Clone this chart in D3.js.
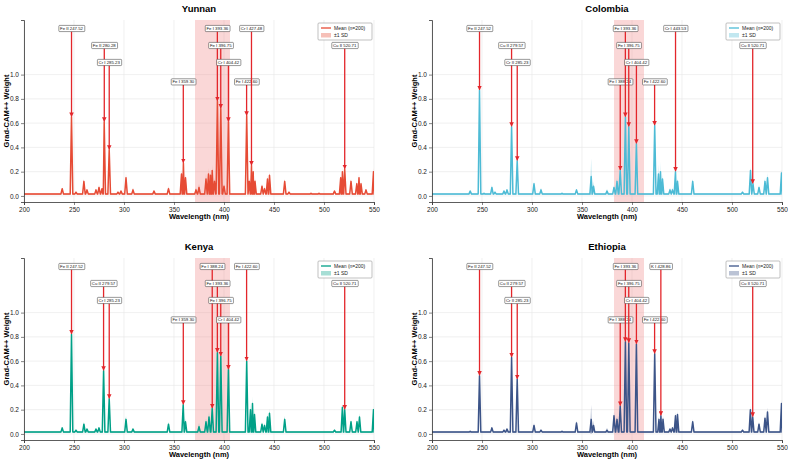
<!DOCTYPE html>
<html>
<head>
<meta charset="utf-8">
<script src="https://cdn.jsdelivr.net/npm/d3@7"></script>
<style>
  body { margin: 0; background: #fff; }
  text { font-family: "Liberation Sans", Arial, sans-serif; }
</style>
</head>
<body>
<svg id="chart" width="788" height="462"></svg>
<script>
// [wavelength, mean weight, sd]
const yunnanPeaks = [
  [238.2,0.06,0.01],[247.5,0.65,0.03],[252,0.03,0.01],[259.9,0.12,0.02],[263,0.05,0.01],
  [272,0.05,0.01],[275,0.07,0.02],[278,0.06,0.01],[280.2,0.61,0.03],[285.2,0.38,0.02],
  [294,0.03,0.01],[297,0.04,0.01],[302,0.15,0.03],[309,0.05,0.02],[330,0.04,0.01],
  [344.5,0.06,0.02],[357.5,0.18,0.04],[359.4,0.27,0.04],[361.5,0.15,0.03],[372,0.05,0.02],
  [375,0.07,0.03],[382,0.14,0.04],[384.5,0.18,0.05],[386.5,0.17,0.04],[388.2,0.21,0.05],
  [390.5,0.12,0.03],[393.4,0.78,0.04],[396.8,0.72,0.04],[400,0.08,0.02],[404.4,0.61,0.03],
  [422.7,0.66,0.03],[425.3,0.12,0.03],[427.5,0.25,0.05],[429.2,0.2,0.04],[431,0.12,0.03],
  [438,0.08,0.02],[440.5,0.06,0.02],[443.5,0.14,0.03],[445.5,0.17,0.03],[460.7,0.12,0.02],
  [465,0.03,0.01],[487,0.02,0.01],[495,0.02,0.01],[510.5,0.04,0.01],[516.7,0.15,0.03],
  [518.4,0.2,0.04],[520.7,0.22,0.04],[527,0.12,0.02],[532.8,0.1,0.02],[535,0.15,0.03],
  [537,0.1,0.02],[542,0.05,0.01],[549.5,0.2,0.03]
];
const colombiaPeaks = [
  [238.2,0.04,0.01],[247.5,0.87,0.03],[252,0.02,0.01],[259.9,0.07,0.02],[263,0.03,0.01],
  [272,0.04,0.01],[275,0.05,0.01],[279.6,0.57,0.03],[285.2,0.29,0.02],[302,0.1,0.02],
  [309,0.05,0.02],[330,0.02,0.01],[344.5,0.05,0.01],[359.2,0.16,0.15],[361.5,0.08,0.04],
  [375,0.04,0.02],[382,0.07,0.02],[385,0.12,0.03],[388.2,0.21,0.04],[393.4,0.65,0.05],
  [396.8,0.57,0.04],[404.4,0.43,0.03],[422.7,0.58,0.03],[426.5,0.18,0.08],[428.5,0.2,0.08],
  [430.5,0.14,0.04],[438,0.05,0.02],[440.5,0.05,0.02],[443.5,0.2,0.03],[445.5,0.12,0.03],
  [460.7,0.12,0.02],[510.5,0.03,0.01],[518.5,0.21,0.03],[521,0.1,0.02],[527,0.07,0.02],
  [533,0.12,0.03],[535.5,0.15,0.04],[549.5,0.19,0.03]
];
const kenyaPeaks = [
  [238.2,0.05,0.01],[247.5,0.82,0.03],[252,0.03,0.01],[259.9,0.08,0.02],[263,0.04,0.01],
  [272,0.04,0.01],[275,0.05,0.01],[279.6,0.52,0.03],[285.2,0.29,0.02],[302,0.12,0.03],
  [309,0.04,0.01],[344.5,0.08,0.02],[359.2,0.24,0.04],[361.5,0.1,0.03],[375,0.06,0.03],
  [382,0.1,0.03],[385,0.14,0.04],[388.2,0.21,0.04],[393.4,0.67,0.04],[396.8,0.64,0.04],
  [404.4,0.53,0.03],[422.7,0.6,0.03],[426.5,0.2,0.05],[428.5,0.25,0.06],[430.5,0.16,0.04],
  [438,0.08,0.02],[440.5,0.07,0.02],[443.5,0.14,0.03],[445.5,0.17,0.04],[460.7,0.12,0.03],
  [510.5,0.03,0.01],[518.4,0.22,0.03],[520.7,0.2,0.03],[527,0.1,0.02],[533,0.1,0.02],
  [535.5,0.14,0.03],[549.5,0.2,0.03]
];
const ethiopiaPeaks = [
  [238.2,0.02,0.01],[247.5,0.48,0.03],[259.9,0.05,0.01],[272,0.03,0.01],[275,0.04,0.01],
  [279.6,0.63,0.05],[285.2,0.45,0.03],[302,0.07,0.02],[309,0.03,0.01],[330,0.02,0.01],
  [344.5,0.09,0.02],[359.2,0.12,0.12],[361.5,0.07,0.04],[375,0.03,0.02],[382,0.15,0.03],
  [385,0.12,0.03],[388.2,0.23,0.04],[393.4,0.76,0.04],[396.8,0.75,0.04],[404.4,0.74,0.03],
  [422.7,0.66,0.03],[427,0.12,0.03],[428.9,0.15,0.03],[431,0.12,0.03],[438,0.04,0.01],
  [440.5,0.05,0.01],[443.5,0.15,0.03],[445.5,0.16,0.03],[460.7,0.1,0.02],[510.5,0.03,0.01],
  [518.4,0.2,0.03],[520.7,0.14,0.03],[527,0.08,0.02],[533,0.13,0.03],[535.5,0.18,0.04],
  [549.5,0.25,0.03]
];

// annotated lines [label, wavelength]
const yunnanLines = [["Fe II 247.52",247.52],["Fe II 280.28",280.28],["Cr I 285.23",285.23],["Fe I 359.30",359.30],
  ["Fe I 393.36",393.36],["Fe I 396.75",396.75],["Cr I 404.42",404.42],["Fe I 422.60",422.60],["Cr I 427.48",427.48],["Cu II 520.71",520.71]];
const colombiaLines = [["Fe II 247.52",247.52],["Cu II 279.57",279.57],["Cr II 285.23",285.23],["Fe I 388.24",388.24],
  ["Fe I 393.36",393.36],["Fe I 396.75",396.75],["Cr I 404.42",404.42],["Fe I 422.60",422.60],["Cr I 443.53",443.53],["Cu II 520.71",520.71]];
const kenyaLines = [["Fe II 247.52",247.52],["Cu II 279.57",279.57],["Cr I 285.23",285.23],["Fe I 359.30",359.30],
  ["Fe I 388.24",388.24],["Fe I 393.36",393.36],["Fe I 396.75",396.75],["Cr I 404.42",404.42],["Fe I 422.60",422.60],["Cu II 520.71",520.71]];
const ethiopiaLines = [["Fe II 247.52",247.52],["Cu II 279.57",279.57],["Cr II 285.23",285.23],["Fe I 388.24",388.24],
  ["Fe I 393.36",393.36],["Fe I 396.75",396.75],["Cr I 404.42",404.42],["Fe I 422.60",422.60],["K I 428.86",428.86],["Cu II 520.71",520.71]];

const countries = ["Yunnan","Colombia","Kenya","Ethiopia"];
const colors = ["#E64B35","#4DBBD5","#00A087","#3C5488"];
const highlight = [[371,406],[382,412],[371,406],[382,412]];
const labelLevels = [1.38,1.24,1.10,0.94];
const xTicks = [200,250,300,350,400,450,500,550];
const yTicks = [0,0.2,0.4,0.6,0.8,1.0];
const baseMean = 0.015, baseSd = 0.008;

const svg = d3.select("#chart");
const W = 350, H = 182;
const origins = [[24,20],[432,20],[24,258],[432,258]];
const allPeaks = [yunnanPeaks, colombiaPeaks, kenyaPeaks, ethiopiaPeaks];
const allLines = [yunnanLines, colombiaLines, kenyaLines, ethiopiaLines];

const defs = svg.append("defs");
defs.append("marker").attr("id","arrow").attr("viewBox","0 0 10 10")
  .attr("refX",9).attr("refY",5).attr("markerWidth",3.5).attr("markerHeight",3.5)
  .attr("markerUnits","strokeWidth").attr("orient","auto")
  .append("path").attr("d","M0,0 L10,5 L0,10 z").attr("fill","#e3262b");

countries.forEach((name, i) => {
  const [ox, oy] = origins[i];
  const g = svg.append("g").attr("transform", `translate(${ox},${oy})`);
  const x = d3.scaleLinear().domain([200,550]).range([0,W]);
  const y = d3.scaleLinear().domain([-0.05,1.45]).range([H,0]);

  defs.append("clipPath").attr("id","clip"+i).append("rect").attr("width",W).attr("height",H);

  // grid
  g.append("g").selectAll("line").data(xTicks).enter().append("line")
    .attr("x1",d=>x(d)).attr("x2",d=>x(d)).attr("y1",0).attr("y2",H)
    .attr("stroke","#e6e6e6").attr("stroke-width",0.6);
  g.append("g").selectAll("line").data(yTicks).enter().append("line")
    .attr("x1",0).attr("x2",W).attr("y1",d=>y(d)).attr("y2",d=>y(d))
    .attr("stroke","#e6e6e6").attr("stroke-width",0.6);

  const plot = g.append("g").attr("clip-path",`url(#clip${i})`);
  plot.append("rect").attr("x",x(highlight[i][0])).attr("width",x(highlight[i][1])-x(highlight[i][0]))
    .attr("y",0).attr("height",H).attr("fill","#f28b8b").attr("opacity",0.35);

  // spectrum points from peak list
  const w = 1.3;
  let pts = [[200,baseMean,baseSd],[550,baseMean,baseSd]];
  allPeaks[i].forEach(p => {
    pts.push([p[0]-w,baseMean,baseSd]); pts.push(p); pts.push([p[0]+w,baseMean,baseSd]);
  });
  pts.sort((a,b)=>a[0]-b[0]);

  const area = d3.area().x(d=>x(d[0])).y0(d=>y(Math.max(d[1]-d[2],-0.03))).y1(d=>y(d[1]+d[2]));
  const line = d3.line().x(d=>x(d[0])).y(d=>y(d[1]));
  plot.append("path").datum(pts).attr("d",area).attr("fill",colors[i]).attr("opacity",0.35);
  plot.append("path").datum(pts).attr("d",line).attr("fill","none")
    .attr("stroke",colors[i]).attr("stroke-width",1.5).attr("stroke-linejoin","round");

  // axes
  const xa = g.append("g").attr("transform",`translate(0,${H})`)
    .call(d3.axisBottom(x).tickValues(xTicks).tickFormat(d3.format("d")).tickSize(3).tickPadding(2));
  const ya = g.append("g")
    .call(d3.axisLeft(y).tickValues(yTicks).tickFormat(d3.format(".1f")).tickSize(3).tickPadding(2));
  [xa, ya].forEach(a => {
    a.select(".domain").attr("stroke","#333").attr("stroke-width",0.8);
    a.selectAll(".tick line").attr("stroke","#333").attr("stroke-width",0.6);
    a.selectAll(".tick text").attr("font-size",6.5).attr("fill","#222")
      .attr("font-family","'Liberation Sans', Arial, sans-serif");
  });

  g.append("text").attr("x",W/2).attr("y",-8).attr("text-anchor","middle")
    .attr("font-size",9.5).attr("font-weight","bold").text(name);
  g.append("text").attr("x",W/2).attr("y",H+17).attr("text-anchor","middle")
    .attr("font-size",7.5).attr("font-weight","bold").text("Wavelength (nm)");
  g.append("text").attr("transform",`translate(-15,${H/2}) rotate(-90)`).attr("text-anchor","middle")
    .attr("font-size",7.5).attr("font-weight","bold").text("Grad-CAM++ Weight");

  // annotations
  allLines[i].forEach((ln, k) => {
    const [lab, wl] = ln;
    const pk = allPeaks[i].reduce((a,b)=>Math.abs(b[0]-wl)<Math.abs(a[0]-wl)?b:a);
    const lv = labelLevels[k % 4];
    const ax = g.append("g");
    ax.append("line").attr("x1",x(wl)).attr("x2",x(wl))
      .attr("y1",y(lv)+3).attr("y2",y(pk[1])-0.5)
      .attr("stroke","#e3262b").attr("stroke-width",1.3)
      .attr("marker-end","url(#arrow)");
    const t = ax.append("text").attr("x",x(wl)).attr("y",y(lv)+1.5).attr("text-anchor","middle")
      .attr("font-size",4.3).attr("fill","#111").text(lab);
    const bb = t.node().getBBox();
    ax.insert("rect","text").attr("x",bb.x-1.2).attr("y",bb.y-0.6)
      .attr("width",bb.width+2.4).attr("height",bb.height+1.2).attr("rx",0.8)
      .attr("fill","#fff").attr("stroke","#333").attr("stroke-width",0.5);
  });

  // legend
  const lg = g.append("g").attr("transform",`translate(${W-56},3)`);
  lg.append("rect").attr("width",54).attr("height",17).attr("rx",1)
    .attr("fill","#fff").attr("fill-opacity",0.9).attr("stroke","#999").attr("stroke-width",0.6);
  lg.append("line").attr("x1",3).attr("x2",13).attr("y1",5).attr("y2",5)
    .attr("stroke",colors[i]).attr("stroke-width",1.3);
  lg.append("rect").attr("x",3).attr("y",10).attr("width",10).attr("height",4.5)
    .attr("fill",colors[i]).attr("opacity",0.35);
  lg.append("text").attr("x",16).attr("y",6.8).attr("font-size",5).attr("fill","#222").text("Mean (n=200)");
  lg.append("text").attr("x",16).attr("y",14.2).attr("font-size",5).attr("fill","#222").text("±1 SD");
});
</script>
</body>
</html>
